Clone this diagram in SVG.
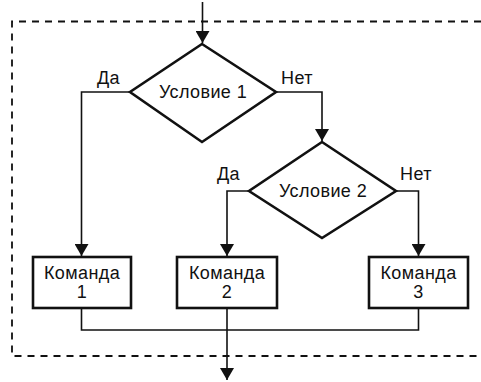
<svg xmlns="http://www.w3.org/2000/svg" width="481" height="382" viewBox="0 0 481 382">
  <style>
    .node { fill: #fff; stroke: #111; stroke-width: 2.6; stroke-linejoin: miter; }
    .wire { fill: none; stroke: #111; stroke-width: 1.6; }
    .frame { fill: none; stroke: #111; stroke-width: 1.8; stroke-dasharray: 7 6; }
    text { font-family: "Liberation Sans", Arial, sans-serif; font-size: 18px; fill: #111; text-anchor: middle; letter-spacing: 0.4px; }
    .lbl { text-anchor: start; }
  </style>
  <defs>
    <marker id="arrow" viewBox="0 0 12 14" refX="12" refY="7" markerWidth="12" markerHeight="14" markerUnits="userSpaceOnUse" orient="auto">
      <path d="M0,0 L12,7 L0,14 Z" fill="#111"/>
    </marker>
  </defs>

  <!-- dashed boundary of the block -->
  <path class="frame" d="M481,21.5 H12 V356 H481"/>

  <!-- connectors -->
  <g id="connectors">
    <path class="wire" d="M202.5,2 V43" marker-end="url(#arrow)"/>
    <path class="wire" d="M130,92 H81.5 V256" marker-end="url(#arrow)"/>
    <path class="wire" d="M276,92 H322 V141" marker-end="url(#arrow)"/>
    <path class="wire" d="M249,191 H227 V256" marker-end="url(#arrow)"/>
    <path class="wire" d="M396,191 H418.5 V256" marker-end="url(#arrow)"/>
    <path class="wire" d="M81.5,308 V330 H418.5 V308"/>
    <path class="wire" d="M227,308 V380" marker-end="url(#arrow)"/>
  </g>

  <!-- branch labels -->
  <text class="lbl" x="97" y="84">Да</text>
  <text class="lbl" x="281" y="84">Нет</text>
  <text class="lbl" x="217" y="180">Да</text>
  <text class="lbl" x="400" y="180">Нет</text>

  <g id="cond1">
    <polygon class="node" points="202,44 276,92 202,142 130,92"/>
    <text x="203" y="98">Условие 1</text>
  </g>

  <g id="cond2">
    <polygon class="node" points="322,142 396,191 322,238 249,191"/>
    <text x="323" y="197">Условие 2</text>
  </g>

  <g id="cmd1">
    <rect class="node" x="33" y="257" width="98" height="51"/>
    <text x="82" y="279">Команда<tspan x="82" y="298">1</tspan></text>
  </g>

  <g id="cmd2">
    <rect class="node" x="177" y="257" width="100" height="51"/>
    <text x="227" y="279">Команда<tspan x="227" y="298">2</tspan></text>
  </g>

  <g id="cmd3">
    <rect class="node" x="369" y="257" width="99" height="51"/>
    <text x="418.5" y="279">Команда<tspan x="418.5" y="298">3</tspan></text>
  </g>
</svg>
